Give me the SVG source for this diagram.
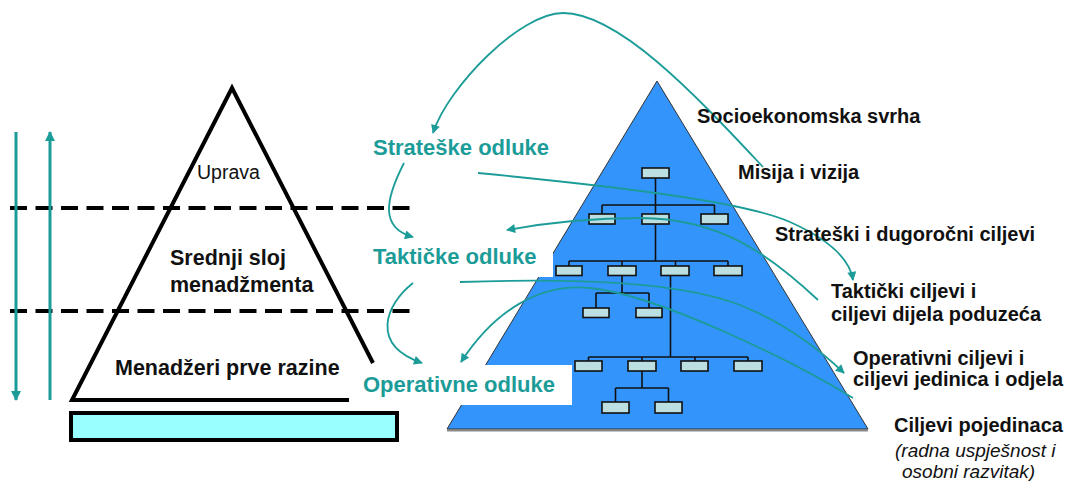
<svg xmlns="http://www.w3.org/2000/svg" width="1073" height="481" viewBox="0 0 1073 481">
<style>
.bk{font-family:"Liberation Sans",Arial,sans-serif;font-weight:bold;fill:#111;}
.tl{font-family:"Liberation Sans",Arial,sans-serif;font-weight:bold;fill:#1c9c98;font-size:22px;}
.ob{fill:#bcdfe2;stroke:#111;stroke-width:1.6;}
.ol{fill:none;stroke:#111;stroke-width:1.6;}
.cn{fill:none;stroke:#1c9c98;stroke-width:1.8;}
.dash{stroke:#000;stroke-width:4;stroke-dasharray:17 8.5;}
</style>
<defs>
<marker id="ah" viewBox="0 0 10 10" refX="9" refY="5" markerWidth="10" markerHeight="9" markerUnits="userSpaceOnUse" orient="auto">
<path d="M0,0 L10,5 L0,10 z" fill="#1c9c98"/>
</marker>
<marker id="ahb" viewBox="0 0 10 10" refX="9" refY="5" markerWidth="10" markerHeight="11" markerUnits="userSpaceOnUse" orient="auto">
<path d="M0,0 L10,5 L0,10 z" fill="#1c9c98"/>
</marker>
</defs>
<rect width="1073" height="481" fill="#fff"/>

<g id="left-pyramid">
<polyline points="373,363 232,88 72,400 349,400" fill="none" stroke="#000" stroke-width="4" stroke-linejoin="miter"/>
<line class="dash" x1="10" y1="208" x2="410" y2="208"/>
<line class="dash" x1="10" y1="311" x2="410" y2="311"/>
<text x="197" y="179" style="font-family:'Liberation Sans',Arial,sans-serif;font-size:19.5px;fill:#111">Uprava</text>
<text class="bk" x="170" y="265" font-size="21.5">Srednji sloj</text>
<text class="bk" x="170" y="292" font-size="21.5">menadžmenta</text>
<text class="bk" x="115" y="375" font-size="21.5">Menadžeri prve razine</text>
</g>
<g id="base-bar">
<rect x="71" y="413" width="326" height="27" fill="#99ffff" stroke="#000" stroke-width="4"/>
</g>
<g id="vertical-arrows">
<line x1="16" y1="132" x2="16" y2="400" stroke="#1c9c98" stroke-width="3" marker-end="url(#ahb)"/>
<line x1="50" y1="400" x2="50" y2="132" stroke="#1c9c98" stroke-width="3" marker-end="url(#ahb)"/>
</g>

<g id="right-pyramid">
<line x1="447" y1="430.5" x2="868" y2="430.5" stroke="#8a8a8a" stroke-width="2"/>
<polygon points="657,81 447,429 868,429" fill="#3394fc" stroke="#333" stroke-width="1"/>
</g>

<g id="org-chart">
<path class="ol" d="M655.5,178 V205 M602,205 H714.5 M602,205 V214 M714.5,205 V214 M655.5,205 V214
M655.5,224 V261 M569,261 H728 M569,261 V266 M622,261 V266 M675.5,261 V266 M728,261 V266
M622,275 V293 M596,293 H649 M596,293 V308 M649,293 V308
M670.5,275 V357 M588.5,357 H748 M588.5,357 V361 M642,357 V361 M695,357 V361 M748,357 V361
M642,371 V388 M615.5,388 H668.5 M615.5,388 V402 M668.5,388 V402"/>
<rect class="ob" x="642" y="168" width="27" height="10"/>
<rect class="ob" x="589" y="214" width="26" height="10"/>
<rect class="ob" x="642" y="214" width="27" height="10"/>
<rect class="ob" x="701" y="214" width="27" height="10"/>
<rect class="ob" x="556" y="266" width="26" height="9.5"/>
<rect class="ob" x="608" y="266" width="28" height="9.5"/>
<rect class="ob" x="661" y="266" width="28" height="9.5"/>
<rect class="ob" x="714" y="266" width="28" height="9.5"/>
<rect class="ob" x="583" y="308" width="26" height="9.5"/>
<rect class="ob" x="636" y="308" width="26" height="9.5"/>
<rect class="ob" x="575" y="361" width="27" height="10"/>
<rect class="ob" x="628" y="361" width="28" height="10"/>
<rect class="ob" x="681" y="361" width="27" height="10"/>
<rect class="ob" x="734" y="361" width="28" height="10"/>
<rect class="ob" x="602" y="402" width="27" height="11"/>
<rect class="ob" x="655" y="402" width="27" height="11"/>
</g>

<g id="decision-labels">
<rect x="365" y="240" width="188" height="37" fill="#fff"/>
<rect x="356" y="365" width="216" height="40" fill="#fff"/>
<text class="tl" x="373" y="155">Strateške odluke</text>
<text class="tl" x="373" y="264">Taktičke odluke</text>
<text class="tl" x="363" y="392">Operativne odluke</text>
</g>

<g id="connectors">
<path class="cn" marker-end="url(#ah)" d="M763,167 C700,100 620,13 563,13 C520,13 448,87 433,133"/>
<path class="cn" marker-end="url(#ah)" d="M404,163 C385,200 380,228 413,237"/>
<path class="cn" marker-end="url(#ah)" d="M413,283 C385,305 370,345 422,363"/>
<path class="cn" marker-end="url(#ah)" d="M478,173 C600,185 740,200 790,222 C830,240 850,260 853,280"/>
<path class="cn" marker-end="url(#ah)" d="M818,300 C770,255 720,218 640,218 C590,218 540,224 507,230"/>
<path class="cn" marker-end="url(#ah)" d="M460,282 C580,278 680,282 740,305 C790,325 825,355 844,373"/>
<path class="cn" marker-end="url(#ah)" d="M853,398 C800,365 660,295 590,288 C540,283 495,310 461,362"/>
</g>

<g id="goal-labels">
<text class="bk" x="697" y="123" font-size="20">Socioekonomska svrha</text>
<text class="bk" x="738" y="179" font-size="20">Misija i vizija</text>
<text class="bk" x="775" y="241" font-size="20">Strateški i dugoročni ciljevi</text>
<text class="bk" x="831" y="298" font-size="20">Taktički ciljevi i</text>
<text class="bk" x="831" y="321" font-size="20">ciljevi dijela poduzeća</text>
<text class="bk" x="853" y="365" font-size="20">Operativni ciljevi i</text>
<text class="bk" x="853" y="386" font-size="20">ciljevi jedinica i odjela</text>
<text class="bk" x="894" y="432" font-size="20">Ciljevi pojedinaca</text>
<text x="895" y="457" style="font-family:'Liberation Sans',Arial,sans-serif;font-style:italic;font-size:19px;fill:#111">(radna uspješnost i</text>
<text x="902" y="478" style="font-family:'Liberation Sans',Arial,sans-serif;font-style:italic;font-size:19px;fill:#111">osobni razvitak)</text>
</g>
</svg>
